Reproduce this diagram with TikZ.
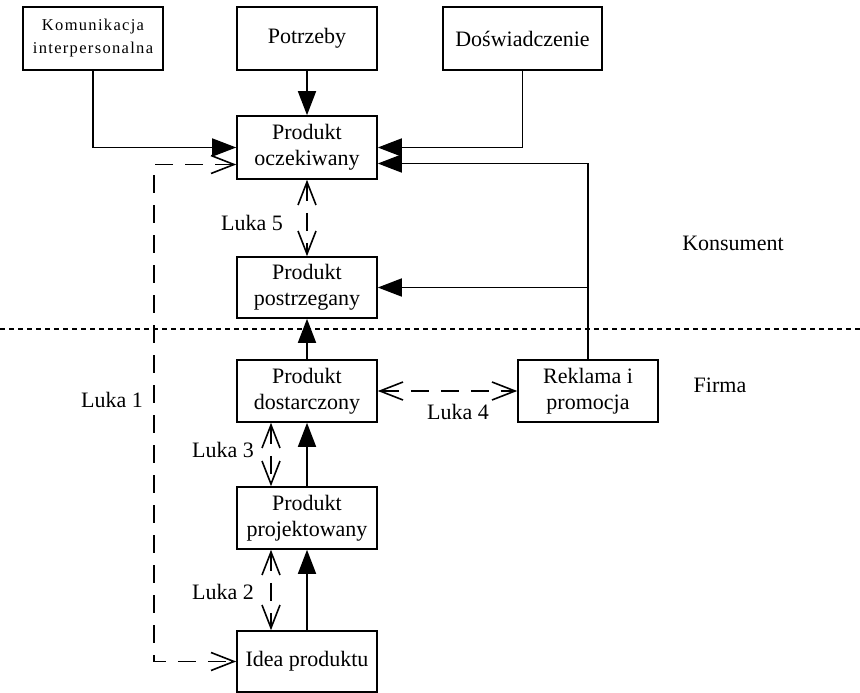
\documentclass[tikz,border=0pt]{standalone}
\usepackage{fontspec}
\setmainfont{Liberation Serif}
\usetikzlibrary{arrows.meta}
\begin{document}
\begin{tikzpicture}[x=1pt,y=-1pt,line width=1.6pt,
  box/.style={draw,line width=1.6pt,minimum width=140pt,minimum height=62pt,align=center,inner sep=0pt,font=\fontsize{22}{26}\selectfont},
  lbl/.style={inner sep=0pt,font=\fontsize{22}{26}\selectfont},
  solidarr/.style={-{Triangle[length=24pt,width=18pt]}},
  gap/.style={dash pattern=on 18pt off 12pt,{Straight Barb[length=23pt,width=18pt]}-{Straight Barb[length=23pt,width=18pt]}},
  divider/.style={dash pattern=on 5pt off 4pt}]
\useasboundingbox (0,0) rectangle (860,693);
% boxes
\node[box,minimum height=63pt,font=\fontsize{16.5}{23}\selectfont\addfontfeature{LetterSpace=8}] (kom) at (93,38.5) {Komunikacja\\interpersonalna};
\node[box,minimum height=63pt] (potr) at (307,38.5) {Potrzeby};
\node[box,minimum width=159pt,minimum height=63pt] (dosw) at (522.5,38.5) {Doświadczenie};
\node[box,minimum height=63pt] (ocz) at (307,147.5) {Produkt\\oczekiwany};
\node[box,minimum height=61pt] (post) at (307,287.5) {Produkt\\postrzegany};
\node[box] (dost) at (307,391) {Produkt\\dostarczony};
\node[box] (rekl) at (588,391) {Reklama i\\promocja};
\node[box] (proj) at (307,518) {Produkt\\projektowany};
\node[box,minimum height=61pt] (idea) at (307,661.5) {Idea produktu};
% labels
\node[lbl] (konsument) at (733,243) {Konsument};
\node[lbl] (firma) at (720,385) {Firma};
\node[lbl] (luka1) at (112,400) {Luka 1};
\node[lbl] (luka5) at (252,223) {Luka 5};
\node[lbl] (luka4) at (458,412) {Luka 4};
\node[lbl] (luka3) at (223,450) {Luka 3};
\node[lbl] (luka2) at (223,592) {Luka 2};
% divider
\coordinate (dl) at (0,329);
\coordinate (dr) at (860,329);
\draw[divider] (dl) -- (dr);
% solid connectors
\draw[solidarr] (kom.south) |- (ocz.west);
\draw[solidarr] (potr.south) -- (ocz.north);
\draw[solidarr] (dosw.south) |- (ocz.east);
\draw[solidarr] (rekl.north) |- ([yshift=-16pt]ocz.east);
\draw[solidarr] (rekl.north |- post.east) -- (post.east);
\draw[solidarr] (dost.north) -- (post.south);
\draw[solidarr] (proj.north) -- (dost.south);
\draw[solidarr] (idea.north) -- (proj.south);
% gaps
\coordinate (l1a) at (154,164.5);
\coordinate (l1b) at (154,661.5);
\draw[gap] ([yshift=-17pt]ocz.west) -- (l1a) -- (l1b) -- (idea.west);
\draw[gap] (ocz.south) -- (post.north);
\draw[gap] (dost.east) -- (rekl.west);
\draw[gap] ([xshift=-36pt]dost.south) -- ([xshift=-36pt]proj.north);
\draw[gap] ([xshift=-36pt]proj.south) -- ([xshift=-36pt]idea.north);
\end{tikzpicture}
\end{document}
